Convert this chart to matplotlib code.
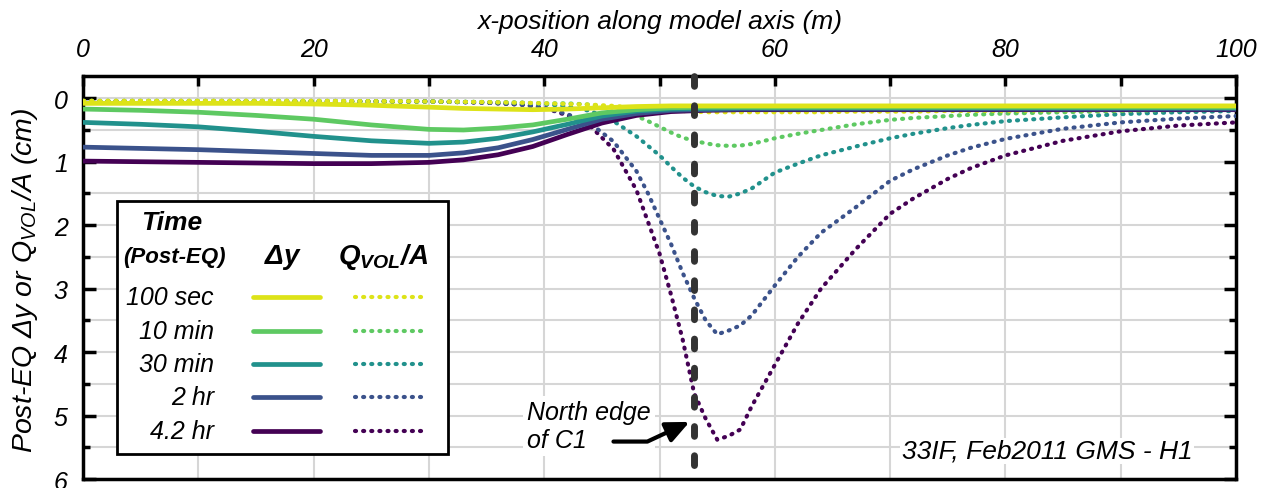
import matplotlib.pyplot as plt
from matplotlib.patches import Rectangle
from matplotlib.ticker import MultipleLocator

plt.rcParams['font.family'] = ['Liberation Sans', 'DejaVu Sans']
plt.rcParams['font.style'] = 'italic'
plt.rcParams['mathtext.fontset'] = 'custom'
plt.rcParams['mathtext.rm'] = 'Liberation Sans:italic'
plt.rcParams['mathtext.it'] = 'Liberation Sans:italic'
plt.rcParams['mathtext.bf'] = 'Liberation Sans:bold:italic'

# ---- data ----
times = ['100 sec', '10 min', '30 min', '2 hr', '4.2 hr']
colors = ['#dde318', '#5ec962', '#21918c', '#3b528b', '#440154']

# settlement, dy (cm)
x_dy = [0, 5, 10, 15, 20, 25, 30, 33, 36, 39, 42, 45, 48, 51, 54, 57, 60, 70, 80, 90, 100]
dy_100s = [0.08, 0.08, 0.08, 0.08, 0.09, 0.11, 0.14, 0.16, 0.17, 0.18, 0.17, 0.15, 0.13, 0.12, 0.12, 0.12, 0.12, 0.12, 0.12, 0.12, 0.12]
dy_10min = [0.17, 0.19, 0.22, 0.27, 0.33, 0.42, 0.49, 0.50, 0.47, 0.42, 0.33, 0.23, 0.18, 0.15, 0.14, 0.14, 0.14, 0.14, 0.14, 0.14, 0.14]
dy_30min = [0.38, 0.41, 0.45, 0.52, 0.60, 0.67, 0.71, 0.69, 0.63, 0.53, 0.41, 0.28, 0.20, 0.17, 0.16, 0.15, 0.15, 0.15, 0.15, 0.15, 0.15]
dy_2hr = [0.77, 0.79, 0.81, 0.84, 0.87, 0.90, 0.90, 0.86, 0.78, 0.65, 0.49, 0.33, 0.24, 0.19, 0.18, 0.17, 0.17, 0.17, 0.17, 0.17, 0.17]
dy_42hr = [0.99, 1.00, 1.01, 1.02, 1.03, 1.03, 1.01, 0.97, 0.89, 0.76, 0.57, 0.39, 0.27, 0.21, 0.19, 0.18, 0.18, 0.18, 0.18, 0.18, 0.18]

# volumetric outflow per area, Q_VOL/A (cm)
x_q = [0, 10, 20, 30, 35, 38, 40, 42, 44, 46, 48, 49, 50, 51, 52, 53, 54, 55, 56, 57,
       58, 60, 62, 64, 67, 70, 72, 75, 77, 80, 85, 90, 95, 100]
q_100s = [0.04, 0.04, 0.04, 0.05, 0.06, 0.07, 0.08, 0.09, 0.10, 0.12, 0.15, 0.17, 0.18, 0.19, 0.20, 0.21, 0.22, 0.22, 0.22, 0.22,
          0.22, 0.22, 0.22, 0.22, 0.21, 0.21, 0.21, 0.20, 0.20, 0.20, 0.19, 0.19, 0.18, 0.18]
q_10min = [0.04, 0.04, 0.04, 0.05, 0.06, 0.07, 0.08, 0.08, 0.10, 0.15, 0.28, 0.36, 0.45, 0.54, 0.62, 0.67, 0.71, 0.74, 0.75, 0.745,
           0.72, 0.63, 0.56, 0.50, 0.41, 0.34, 0.31, 0.28, 0.26, 0.24, 0.22, 0.20, 0.19, 0.18]
q_30min = [0.05, 0.05, 0.05, 0.05, 0.06, 0.07, 0.09, 0.13, 0.20, 0.36, 0.60, 0.75, 0.90, 1.08, 1.25, 1.39, 1.48, 1.54, 1.55, 1.50,
           1.42, 1.17, 1.03, 0.90, 0.76, 0.63, 0.56, 0.47, 0.42, 0.36, 0.30, 0.25, 0.22, 0.20]
q_2hr = [0.05, 0.05, 0.05, 0.05, 0.07, 0.10, 0.15, 0.25, 0.40, 0.68, 1.15, 1.50, 1.90, 2.30, 2.75, 3.15, 3.50, 3.72, 3.66, 3.58,
         3.42, 2.95, 2.50, 2.12, 1.72, 1.30, 1.12, 0.90, 0.78, 0.64, 0.48, 0.38, 0.32, 0.28]
q_42hr = [0.05, 0.05, 0.05, 0.05, 0.07, 0.10, 0.15, 0.27, 0.44, 0.80, 1.45, 1.95, 2.45, 3.10, 3.80, 4.65, 5.05, 5.38, 5.32, 5.22,
          4.85, 4.20, 3.55, 3.00, 2.38, 1.82, 1.58, 1.27, 1.10, 0.90, 0.67, 0.52, 0.43, 0.38]

dy_all = [dy_100s, dy_10min, dy_30min, dy_2hr, dy_42hr]
q_all = [q_100s, q_10min, q_30min, q_2hr, q_42hr]

c1_edge_x = 53

fig = plt.figure(figsize=(12.7, 4.89), dpi=100)
ax = fig.add_axes([0.0654, 0.0184, 0.9079, 0.824])

# draw oldest (purple) first so yellow ends on top
for i in reversed(range(5)):
    ax.plot(x_q, q_all[i], color=colors[i], lw=3.0, dashes=(0.25, 1.7),
            dash_capstyle='round', zorder=3)
for i in reversed(range(5)):
    ax.plot(x_dy, dy_all[i], color=colors[i], lw=3.4, solid_capstyle='round', zorder=4)

ax.axvline(c1_edge_x, ymin=0.035, ymax=1.0, color='#333333', lw=5,
           dashes=(1.4, 2.8), dash_capstyle='round', zorder=6, clip_on=False)

ax.set_xlim(0, 100)
ax.set_ylim(6, -0.35)
ax.xaxis.set_major_locator(MultipleLocator(20))
ax.xaxis.set_minor_locator(MultipleLocator(10))
ax.yaxis.set_major_locator(MultipleLocator(1))
ax.yaxis.set_minor_locator(MultipleLocator(0.5))
ax.set_axisbelow(True)
ax.grid(True, which='both', color='#d6d6d6', lw=1.5)

ax.tick_params(axis='x', which='both', direction='in', top=True, bottom=False,
               labeltop=True, labelbottom=False, length=7, width=2.5,
               labelsize=18, pad=11)
ax.tick_params(axis='y', which='major', direction='in', left=True, right=True,
               length=9, width=2.5, labelsize=18, pad=11)
ax.tick_params(axis='y', which='minor', direction='in', left=True, right=True,
               length=5, width=2.5)
for s in ax.spines.values():
    s.set_linewidth(2.5)

ax.xaxis.set_label_position('top')
ax.set_xlabel('x-position along model axis (m)', fontsize=19, labelpad=6)
ax.set_ylabel(r'Post-EQ Δy or Q$_{VOL}$/A (cm)', fontsize=20.5, va='center')
ax.yaxis.set_label_coords(-0.05, 0.496)

# annotation for the C1 edge
ax.text(38.5, 5.16, 'North edge\nof C1', fontsize=18, ha='left', va='center',
        linespacing=1.2, zorder=5,
        bbox=dict(fc='white', ec='none', pad=3))
ax.annotate('', xy=(52.6, 5.1), xytext=(46.0, 5.41),
            arrowprops=dict(arrowstyle='-|>,head_length=1.0,head_width=0.45',
                            connectionstyle='angle,angleA=0,angleB=25,rad=0',
                            color='black', lw=3, mutation_scale=14,
                            shrinkA=0, shrinkB=0),
            zorder=7)

ax.text(0.962, 0.0695, '33IF, Feb2011 GMS - H1', transform=ax.transAxes,
        fontsize=19, ha='right', va='center', zorder=5,
        bbox=dict(fc='white', ec='none', pad=1))

# ---- hand-built legend box ----
bx0, by0, bx1, by1 = 0.0295, 0.062, 0.3166, 0.690
ax.add_patch(Rectangle((bx0, by0), bx1 - bx0, by1 - by0, transform=ax.transAxes,
                       fc='white', ec='black', lw=2, zorder=8))
ax.text(0.0772, 0.638, 'Time', transform=ax.transAxes, fontsize=19,
        fontweight='bold', ha='center', va='center', zorder=9)
ax.text(0.079, 0.553, '(Post-EQ)', transform=ax.transAxes, fontsize=16,
        fontweight='bold', ha='center', va='center', zorder=9)
ax.text(0.1735, 0.553, r'Δ$\mathbf{y}$', transform=ax.transAxes, fontsize=20,
        fontweight='bold', ha='center', va='center', zorder=9)
ax.text(0.260, 0.553, r'Q$_{\mathbf{VOL}}$/A', transform=ax.transAxes, fontsize=20,
        fontweight='bold', ha='center', va='center', zorder=9)

row_top, row_step = 0.4516, 0.0831
for i, lab in enumerate(times):
    ry = row_top - i * row_step
    ax.text(0.1135, ry, lab, transform=ax.transAxes, fontsize=18,
            ha='right', va='center', zorder=9)
    ax.plot([0.1474, 0.2056], [ry, ry], transform=ax.transAxes, color=colors[i],
            lw=3.4, solid_capstyle='round', zorder=9)
    ax.plot([0.2359, 0.294], [ry, ry], transform=ax.transAxes, color=colors[i],
            lw=3.0, dashes=(0.25, 1.7), dash_capstyle='round', zorder=9)

fig.savefig('out.png', dpi=100)
